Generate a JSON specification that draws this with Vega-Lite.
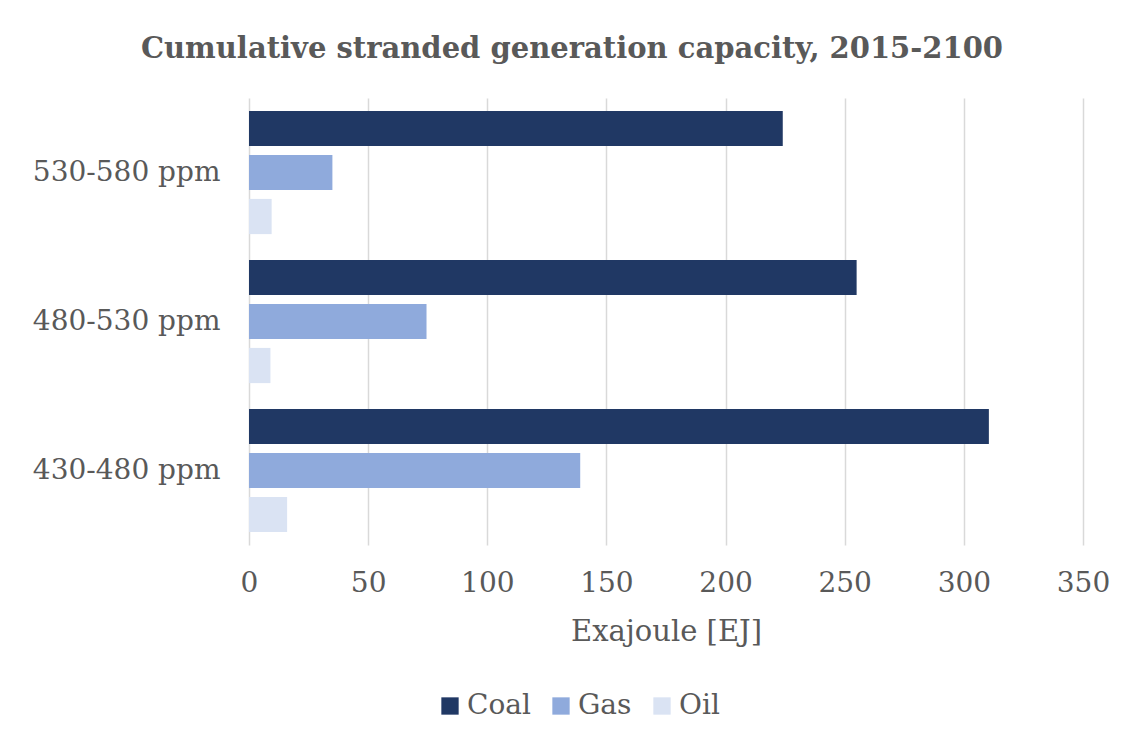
{
  "$schema": "https://vega.github.io/schema/vega-lite/v6.json",
  "width": 834,
  "height": 447,
  "autosize": {"type": "none"},
  "padding": {"left": 249, "top": 98, "right": 47, "bottom": 195},
  "background": "white",
  "title": {
    "text": "Cumulative stranded generation capacity, 2015-2100",
    "font": "DejaVu Serif",
    "fontSize": 29,
    "fontWeight": "bold",
    "color": "#595959",
    "anchor": "middle",
    "frame": "group",
    "dx": -94,
    "offset": 11,
    "baseline": "alphabetic"
  },
  "data": {
    "values": [
      {"scenario": "530-580 ppm", "fuel": "Coal", "value": 224},
      {"scenario": "530-580 ppm", "fuel": "Gas", "value": 35},
      {"scenario": "530-580 ppm", "fuel": "Oil", "value": 9.5},
      {"scenario": "480-530 ppm", "fuel": "Coal", "value": 255},
      {"scenario": "480-530 ppm", "fuel": "Gas", "value": 74.5},
      {"scenario": "480-530 ppm", "fuel": "Oil", "value": 9},
      {"scenario": "430-480 ppm", "fuel": "Coal", "value": 310.5},
      {"scenario": "430-480 ppm", "fuel": "Gas", "value": 139},
      {"scenario": "430-480 ppm", "fuel": "Oil", "value": 16}
    ]
  },
  "mark": {"type": "bar"},
  "encoding": {
    "y": {
      "field": "scenario",
      "type": "nominal",
      "sort": ["530-580 ppm", "480-530 ppm", "430-480 ppm"],
      "scale": {"paddingInner": 0, "paddingOuter": 0},
      "axis": {
        "title": null,
        "labelFont": "DejaVu Serif",
        "labelFontSize": 28,
        "labelColor": "#595959",
        "labelLimit": 0,
        "ticks": false,
        "domain": false,
        "labelPadding": 29
      }
    },
    "yOffset": {
      "field": "fuel",
      "type": "nominal",
      "sort": ["Coal", "Gas", "Oil"],
      "scale": {"paddingInner": 0.2, "paddingOuter": 0.293}
    },
    "x": {
      "field": "value",
      "type": "quantitative",
      "scale": {"domain": [0, 350], "nice": false},
      "axis": {
        "values": [0, 50, 100, 150, 200, 250, 300, 350],
        "grid": true,
        "gridColor": "#D9D9D9",
        "gridWidth": 1.5,
        "domain": false,
        "ticks": false,
        "labelFlush": false,
        "labelOverlap": false,
        "labelFont": "DejaVu Serif",
        "labelFontSize": 28,
        "labelColor": "#595959",
        "labelPadding": 24,
        "title": "Exajoule [EJ]",
        "titleFont": "DejaVu Serif",
        "titleFontSize": 29,
        "titleFontWeight": "normal",
        "titleColor": "#595959",
        "titlePadding": 20
      }
    },
    "color": {
      "field": "fuel",
      "type": "nominal",
      "scale": {"domain": ["Coal", "Gas", "Oil"], "range": ["#203864", "#8FAADC", "#DAE3F3"]},
      "legend": {
        "orient": "none",
        "legendX": 187,
        "legendY": 594,
        "direction": "horizontal",
        "title": null,
        "symbolType": "square",
        "symbolSize": 300,
        "symbolStrokeWidth": 0,
        "labelFont": "DejaVu Serif",
        "labelFontSize": 28,
        "labelColor": "#595959",
        "labelOffset": 3,
        "columnPadding": 16
      }
    }
  },
  "config": {"view": {"stroke": null}}
}
